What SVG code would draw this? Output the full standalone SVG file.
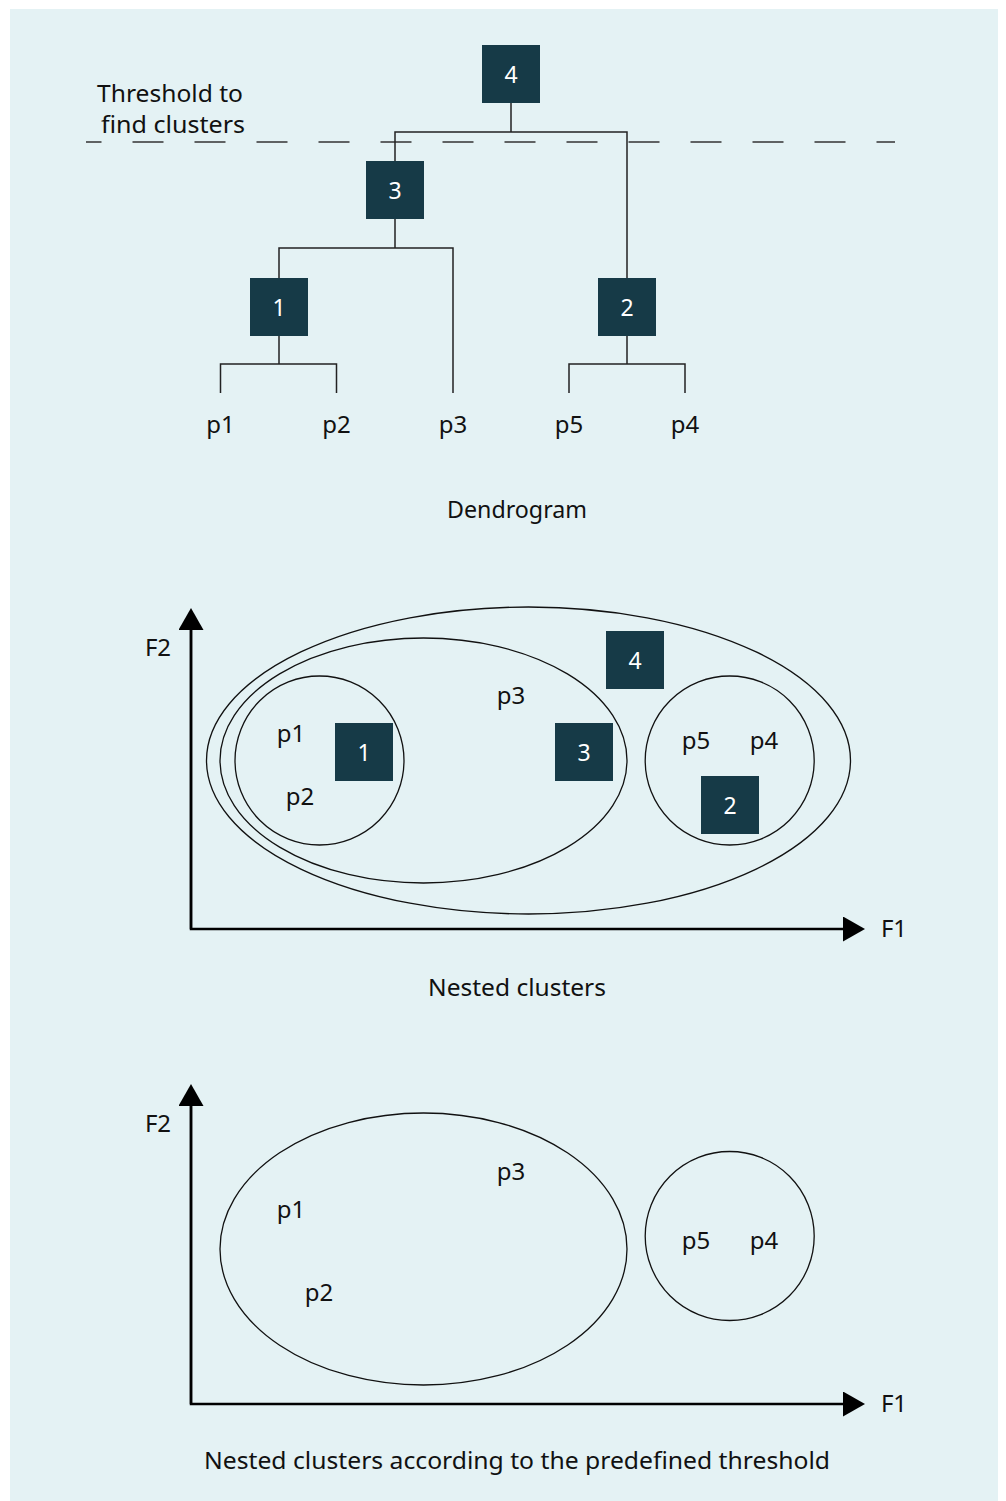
<svg xmlns="http://www.w3.org/2000/svg" width="1006" height="1501" viewBox="0 0 1006 1501">
  <style>
    text { font-family: "Noto Sans", "Open Sans", sans-serif; font-size: 24px; fill: #111; }
    .mid { text-anchor: middle; }
    .box { fill: #163a47; }
    .boxlabel { fill: #ffffff; text-anchor: middle; font-size: 23px; }
    .link { fill: none; stroke: #222; stroke-width: 1.5; }
    .ring { fill: none; stroke: #111; stroke-width: 1.3; }
    .axis { fill: none; stroke: #000; stroke-width: 2.5; }
    .threshold { fill: none; stroke: #333; stroke-width: 1.6; stroke-dasharray: 31 31; stroke-dashoffset: 15.5; }
  </style>
  <defs>
    <marker id="arrow" viewBox="0 0 22 25" refX="0" refY="12.5" markerWidth="22" markerHeight="25" markerUnits="userSpaceOnUse" orient="auto">
      <path d="M0,0 L22,12.5 L0,25 Z" fill="#000"/>
    </marker>
  </defs>

  <!-- panel background -->
  <rect x="10" y="9" width="988" height="1492" fill="#e4f2f4"/>

  <!-- ===== Dendrogram ===== -->
  <g id="threshold">
    <line class="threshold" x1="86" y1="142" x2="895" y2="142"/>
    <text class="mid" x="170" y="102" textLength="146" lengthAdjust="spacingAndGlyphs">Threshold to</text>
    <text class="mid" x="173" y="133" textLength="144" lengthAdjust="spacingAndGlyphs">find clusters</text>
  </g>

  <g id="dendrogram-links">
    <path class="link" d="M511,103 V132 M395,161 V132 H627 V278"/>
    <path class="link" d="M395,219 V248 M279,278 V248 H453 V393"/>
    <path class="link" d="M279,336 V364 M220.5,393 V364 H336.5 V393"/>
    <path class="link" d="M627,336 V364 M569,393 V364 H685 V393"/>
  </g>

  <g id="d-node-4"><rect class="box" x="482" y="45" width="58" height="58"/><text class="boxlabel" x="511" y="82.5">4</text></g>
  <g id="d-node-3"><rect class="box" x="366" y="161" width="58" height="58"/><text class="boxlabel" x="395" y="198.5">3</text></g>
  <g id="d-node-1"><rect class="box" x="250" y="278" width="58" height="58"/><text class="boxlabel" x="279" y="315.5">1</text></g>
  <g id="d-node-2"><rect class="box" x="598" y="278" width="58" height="58"/><text class="boxlabel" x="627" y="315.5">2</text></g>

  <g id="d-leaves">
    <text class="mid" x="220.5" y="433">p1</text>
    <text class="mid" x="336.5" y="433">p2</text>
    <text class="mid" x="453" y="433">p3</text>
    <text class="mid" x="569" y="433">p5</text>
    <text class="mid" x="685" y="433">p4</text>
  </g>
  <text class="mid" x="517" y="518" textLength="140" lengthAdjust="spacingAndGlyphs">Dendrogram</text>

  <!-- ===== Nested clusters ===== -->
  <g id="nested-axes">
    <path class="axis" d="M191,630 V929 H843" marker-end="url(#arrow)"/>
    <path class="axis" d="M191,929 V630" marker-end="url(#arrow)"/>
    <text class="mid" x="158" y="656">F2</text>
    <text class="mid" x="894" y="937">F1</text>
  </g>

  <g id="nested-clusters">
    <ellipse class="ring" cx="528.5" cy="760.5" rx="322" ry="153.5"/>
    <ellipse class="ring" cx="423.5" cy="760.5" rx="203.5" ry="122.5"/>
    <circle class="ring" cx="319.5" cy="760.5" r="84.5"/>
    <circle class="ring" cx="729.7" cy="760.5" r="84.5"/>
  </g>

  <g id="n-node-1"><rect class="box" x="335" y="723" width="58" height="58"/><text class="boxlabel" x="364" y="760.5">1</text></g>
  <g id="n-node-4"><rect class="box" x="606" y="631" width="58" height="58"/><text class="boxlabel" x="635" y="668.5">4</text></g>
  <g id="n-node-3"><rect class="box" x="555" y="723" width="58" height="58"/><text class="boxlabel" x="584" y="760.5">3</text></g>
  <g id="n-node-2"><rect class="box" x="701" y="776" width="58" height="58"/><text class="boxlabel" x="730" y="813.5">2</text></g>

  <g id="nested-points">
    <text class="mid" x="291" y="742">p1</text>
    <text class="mid" x="300" y="805">p2</text>
    <text class="mid" x="511" y="704">p3</text>
    <text class="mid" x="696" y="749">p5</text>
    <text class="mid" x="764" y="749">p4</text>
  </g>
  <text class="mid" x="517" y="996" textLength="178" lengthAdjust="spacingAndGlyphs">Nested clusters</text>

  <!-- ===== Clusters cut at the threshold ===== -->
  <g id="cut-axes">
    <path class="axis" d="M191,1106 V1404 H843" marker-end="url(#arrow)"/>
    <path class="axis" d="M191,1404 V1106" marker-end="url(#arrow)"/>
    <text class="mid" x="158" y="1132">F2</text>
    <text class="mid" x="894" y="1412">F1</text>
  </g>

  <g id="cut-clusters">
    <ellipse class="ring" cx="423.5" cy="1249" rx="203.5" ry="136"/>
    <circle class="ring" cx="729.7" cy="1236" r="84.5"/>
  </g>

  <g id="cut-points">
    <text class="mid" x="291" y="1218">p1</text>
    <text class="mid" x="319" y="1301">p2</text>
    <text class="mid" x="511" y="1180">p3</text>
    <text class="mid" x="696" y="1249">p5</text>
    <text class="mid" x="764" y="1249">p4</text>
  </g>
  <text class="mid" x="517" y="1469" textLength="626" lengthAdjust="spacingAndGlyphs">Nested clusters according to the predefined threshold</text>
</svg>
